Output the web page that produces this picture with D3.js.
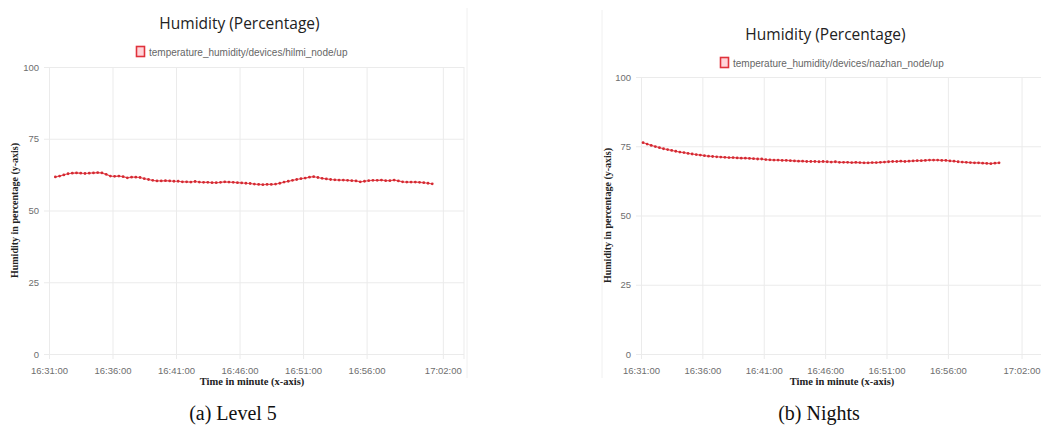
<!DOCTYPE html>
<html>
<head>
<meta charset="utf-8">
<script src="https://cdn.jsdelivr.net/npm/d3@7"></script>
<style>
  html, body { margin: 0; padding: 0; background: #fff; }
  svg { display: block; }
</style>
</head>
<body>
<svg id="chart" width="1041" height="425"></svg>
<script>
// Humidity readings logged every 20 seconds by two sensor nodes
const sampleSeconds = 20;

const level5Start = "16:31:30";
const level5Humidity = [
  61.7, 62.0, 62.4, 62.8, 63.0, 63.1, 63.0, 62.9, 63.0, 63.1,
  63.2, 63.1, 62.6, 62.0, 61.9, 62.0, 61.8, 61.4, 61.6, 61.6,
  61.5, 61.1, 60.8, 60.5, 60.3, 60.3, 60.4, 60.3, 60.2, 60.2,
  60.0, 60.0, 59.9, 60.1, 59.9, 59.8, 59.8, 59.7, 59.7, 59.8,
  60.0, 59.9, 59.8, 59.7, 59.6, 59.5, 59.4, 59.2, 59.1, 59.0,
  59.1, 59.1, 59.2, 59.5, 59.9, 60.2, 60.5, 60.8, 61.1, 61.3,
  61.6, 61.8, 61.5, 61.2, 61.0, 60.8, 60.7, 60.6, 60.6, 60.5,
  60.4, 60.3, 60.0, 60.2, 60.4, 60.5, 60.5, 60.6, 60.4, 60.4,
  60.6, 60.3, 60.0, 59.9, 59.9, 59.9, 59.8, 59.7, 59.5, 59.3
];

const nightsStart = "16:31:10";
const nightsHumidity = [
  76.3, 75.8, 75.3, 74.9, 74.5, 74.1, 73.8, 73.5, 73.2, 72.9,
  72.7, 72.4, 72.2, 72.0, 71.8, 71.6, 71.4, 71.3, 71.2, 71.1,
  71.0, 70.9, 70.9, 70.8, 70.7, 70.7, 70.6, 70.5, 70.4, 70.4,
  70.2, 70.1, 70.0, 70.0, 69.9, 69.9, 69.8, 69.7, 69.6, 69.6,
  69.5, 69.5, 69.5, 69.4, 69.5, 69.4, 69.3, 69.4, 69.2, 69.2,
  69.2, 69.1, 69.2, 69.1, 69.0, 69.0, 69.1, 69.1, 69.2, 69.3,
  69.4, 69.5, 69.5, 69.6, 69.5, 69.6, 69.7, 69.8, 69.8, 69.9,
  70.0, 70.0, 70.0, 69.9, 69.9, 69.7, 69.6, 69.4, 69.3, 69.2,
  69.1, 69.0, 69.0, 68.9, 68.8, 68.7, 68.9, 69.0
];

const timeTicks = ["16:31:00", "16:36:00", "16:41:00", "16:46:00", "16:51:00", "16:56:00", "17:02:00"];
const humidityTicks = [0, 25, 50, 75, 100];
const axisStart = "16:31:00";
const axisEnd = "17:03:40";

const chartTitle = "Humidity (Percentage)";
const xTitle = "Time in minute (x-axis)";
const yTitle = "Humidity in percentage (y-axis)";

const parseTime = d3.timeParse("%H:%M:%S");
const fmtTime = d3.timeFormat("%H:%M:%S");

function toSeries(start, values) {
  const t0 = parseTime(start);
  return values.map((v, i) => ({ t: new Date(t0.getTime() + i * sampleSeconds * 1000), v }));
}

const svg = d3.select("#chart");

function drawPanel(opt) {
  const g = svg.append("g");
  const { left, right, top, bottom } = opt;

  // light frame of the dashboard card
  g.append("line").attr("x1", opt.frame).attr("x2", opt.frame)
    .attr("y1", opt.frameTop).attr("y2", opt.frameBottom)
    .attr("stroke", "#f0f0f0").attr("stroke-width", 1);

  const x = d3.scaleTime()
    .domain([parseTime(axisStart), parseTime(axisEnd)])
    .range([left, right]);
  const y = d3.scaleLinear().domain([0, 100]).range([bottom, top]);

  // horizontal grid + y labels
  const yAxis = d3.axisLeft(y).tickValues(humidityTicks)
    .tickSize(-(right - left + 5)).tickPadding(5);
  const gy = g.append("g").attr("transform", `translate(${left - 5},0)`).call(yAxis);
  gy.select(".domain").remove();
  gy.selectAll(".tick line").attr("stroke", "#ebebeb");
  gy.selectAll(".tick text").attr("fill", "#6e6e6e").attr("font-size", "9.5px")
    .attr("font-family", "Liberation Sans, Arial, sans-serif");

  // vertical grid + time labels
  const xAxis = d3.axisBottom(x).tickValues(timeTicks.map(parseTime))
    .tickFormat(fmtTime).tickSize(-(bottom - top + 5)).tickPadding(8);
  const gx = g.append("g").attr("transform", `translate(0,${bottom + 5})`).call(xAxis);
  gx.select(".domain").remove();
  gx.selectAll(".tick line").attr("stroke", "#ebebeb");
  gx.selectAll(".tick text").attr("fill", "#6e6e6e").attr("font-size", "9.5px")
    .attr("font-family", "Liberation Sans, Arial, sans-serif");

  // right edge of plot area
  g.append("line").attr("x1", right).attr("x2", right).attr("y1", top).attr("y2", bottom + 5)
    .attr("stroke", "#ebebeb");

  // title and legend
  const cx = (left + right) / 2 + opt.titleShift;
  g.append("text").attr("x", cx).attr("y", opt.titleY)
    .attr("text-anchor", "middle").attr("font-family", "Open Sans, sans-serif")
    .attr("font-size", "15.5px").attr("fill", "#222").text(chartTitle);

  const legend = g.append("g").attr("transform", `translate(${opt.legendX},${opt.legendY})`);
  legend.append("rect").attr("x", 0.5).attr("y", -5.5).attr("width", 8).attr("height", 10)
    .attr("fill", "rgba(255,160,170,0.45)").attr("stroke", "#e0323c").attr("stroke-width", 1.6);
  legend.append("text").attr("x", 13).attr("y", 3.5)
    .attr("font-family", "Liberation Sans, Arial, sans-serif").attr("font-size", "10px")
    .attr("fill", "#666").text(opt.legend);

  // axis titles
  g.append("text")
    .attr("transform", `translate(${opt.yTitleX},${(top + bottom) / 2}) rotate(-90)`)
    .attr("text-anchor", "middle").attr("font-family", "Liberation Serif, Times New Roman, serif")
    .attr("font-weight", "bold").attr("font-size", "10px").attr("fill", "#222").text(yTitle);
  g.append("text").attr("x", opt.xTitleX).attr("y", opt.xTitleY)
    .attr("text-anchor", "middle").attr("font-family", "Liberation Serif, Times New Roman, serif")
    .attr("font-weight", "bold").attr("font-size", "10.5px").attr("fill", "#222").text(xTitle);

  // caption under panel
  g.append("text").attr("x", opt.captionX).attr("y", 420)
    .attr("text-anchor", "middle").attr("font-family", "Liberation Serif, Times New Roman, serif")
    .attr("font-size", "20px").attr("fill", "#111").text(opt.caption);

  // series line with point markers
  const data = toSeries(opt.start, opt.values);
  const line = d3.line().x(d => x(d.t)).y(d => y(d.v));
  g.append("path").datum(data).attr("d", line)
    .attr("fill", "none").attr("stroke", "#e8545a").attr("stroke-width", 1.2);
  g.append("g").selectAll("circle").data(data).join("circle")
    .attr("cx", d => x(d.t)).attr("cy", d => y(d.v)).attr("r", 1.4)
    .attr("fill", "#d42a33");
}

drawPanel({
  left: 49, right: 464, top: 67, bottom: 354,
  titleY: 29, titleShift: -17, legendX: 136, legendY: 52,
  legend: "temperature_humidity/devices/hilmi_node/up",
  yTitleX: 18, xTitleX: 252, xTitleY: 385,
  caption: "(a) Level 5", captionX: 233,
  start: level5Start, values: level5Humidity,
  frame: 467, frameTop: 8, frameBottom: 378
});

drawPanel({
  left: 641, right: 1042, top: 77, bottom: 354,
  titleY: 40, titleShift: -16, legendX: 720, legendY: 63,
  legend: "temperature_humidity/devices/nazhan_node/up",
  yTitleX: 611, xTitleX: 842, xTitleY: 385,
  caption: "(b) Nights", captionX: 819,
  start: nightsStart, values: nightsHumidity,
  frame: 602, frameTop: 10, frameBottom: 378
});
</script>
</body>
</html>
